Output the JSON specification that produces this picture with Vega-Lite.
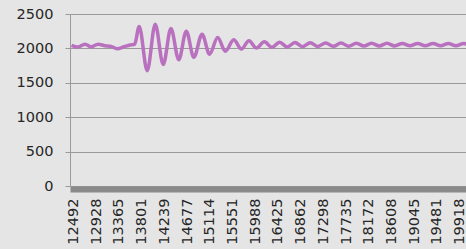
{
  "$schema": "https://vega.github.io/schema/vega-lite/v6.json",
  "width": 396,
  "height": 172,
  "autosize": {"type": "none"},
  "padding": {"left": 70, "top": 14, "right": 0, "bottom": 63},
  "background": "#e5e5e5",
  "config": {
    "font": "DejaVu Sans",
    "view": {"stroke": null, "fill": "#e5e5e5"}
  },
  "data": {
    "values": [
      {"t": 12457, "v": 2045}, {"t": 12582, "v": 2020}, {"t": 12717, "v": 2062}, {"t": 12833, "v": 2022},
      {"t": 12968, "v": 2062}, {"t": 13102, "v": 2040}, {"t": 13218, "v": 2030}, {"t": 13334, "v": 1995},
      {"t": 13469, "v": 2025}, {"t": 13584, "v": 2050}, {"t": 13671, "v": 2060}, {"t": 13758, "v": 2320},
      {"t": 13912, "v": 1675}, {"t": 14066, "v": 2350}, {"t": 14220, "v": 1765}, {"t": 14368, "v": 2290},
      {"t": 14519, "v": 1835}, {"t": 14663, "v": 2250}, {"t": 14808, "v": 1870}, {"t": 14966, "v": 2205},
      {"t": 15112, "v": 1915}, {"t": 15266, "v": 2160}, {"t": 15415, "v": 1960}, {"t": 15575, "v": 2125},
      {"t": 15723, "v": 1990}, {"t": 15868, "v": 2110}, {"t": 16012, "v": 2005}, {"t": 16163, "v": 2095},
      {"t": 16311, "v": 2015}, {"t": 16457, "v": 2090}, {"t": 16604, "v": 2020}, {"t": 16752, "v": 2085},
      {"t": 16899, "v": 2025}, {"t": 17047, "v": 2082}, {"t": 17194, "v": 2028}, {"t": 17342, "v": 2080},
      {"t": 17488, "v": 2030}, {"t": 17637, "v": 2078}, {"t": 17785, "v": 2032}, {"t": 17932, "v": 2076},
      {"t": 18078, "v": 2034}, {"t": 18226, "v": 2075}, {"t": 18373, "v": 2035}, {"t": 18521, "v": 2074},
      {"t": 18668, "v": 2036}, {"t": 18816, "v": 2073}, {"t": 18962, "v": 2037}, {"t": 19111, "v": 2072},
      {"t": 19257, "v": 2038}, {"t": 19406, "v": 2071}, {"t": 19552, "v": 2038}, {"t": 19700, "v": 2070},
      {"t": 19847, "v": 2039}, {"t": 19995, "v": 2070}, {"t": 20136, "v": 2040}
    ]
  },
  "mark": {"type": "line", "color": "#b870bf", "strokeWidth": 3.5, "interpolate": "monotone", "clip": true},
  "encoding": {
    "x": {
      "field": "t",
      "type": "quantitative",
      "scale": {"domain": [12428, 20040], "nice": false, "zero": false},
      "axis": {
        "title": null,
        "values": [12492, 12928, 13365, 13801, 14239, 14677, 15114, 15551, 15988, 16425, 16862, 17298, 17735, 18172, 18608, 19045, 19481, 19918],
        "format": "d",
        "labelAngle": -90,
        "labelOverlap": false,
        "labelFlush": false,
        "labelFontSize": 14.5,
        "labelColor": "#262626",
        "labelPadding": 9,
        "ticks": false,
        "tickSize": 0,
        "grid": false,
        "domainColor": "#8a8a8a",
        "domainWidth": 6,
        "offset": 3
      }
    },
    "y": {
      "field": "v",
      "type": "quantitative",
      "scale": {"domain": [0, 2500], "nice": false},
      "axis": {
        "title": null,
        "values": [0, 500, 1000, 1500, 2000, 2500],
        "format": "d",
        "labelFontSize": 14.5,
        "labelColor": "#262626",
        "labelPadding": 12,
        "tickSize": 5,
        "tickColor": "#9a9a9a",
        "domainColor": "#9a9a9a",
        "gridColor": "#9a9a9a",
        "gridOpacity": 1,
        "labelFlush": false
      }
    }
  }
}
